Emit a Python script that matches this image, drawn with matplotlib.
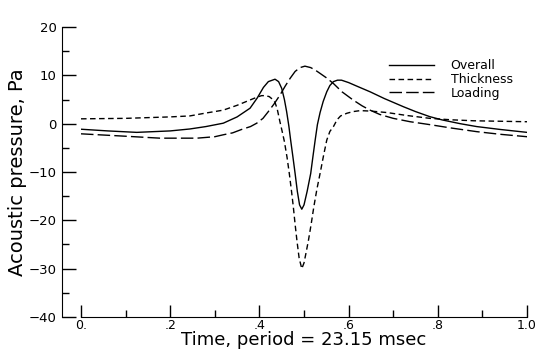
import matplotlib
matplotlib.use("Agg")
import matplotlib.pyplot as plt
from matplotlib.ticker import MultipleLocator

# values
overall_t = [0.0, 0.06, 0.125, 0.2, 0.244, 0.28, 0.319, 0.35, 0.379, 0.395, 0.409,
             0.42, 0.435, 0.443, 0.45, 0.456, 0.461, 0.466, 0.47, 0.475, 0.48,
             0.485, 0.49, 0.495, 0.5, 0.507, 0.515, 0.52, 0.525, 0.53, 0.536,
             0.543, 0.551, 0.558, 0.566, 0.575, 0.584, 0.6, 0.62, 0.648, 0.68,
             0.723, 0.75, 0.782, 0.81, 0.85, 0.887, 0.94, 1.0]
overall_p = [-1.15, -1.5, -1.8, -1.5, -1.1, -0.6, 0.1, 1.4, 3.2, 5.3, 7.5,
             8.7, 9.2, 8.7, 7.3, 5.0, 2.5, -0.5, -3.4, -6.8, -10.3,
             -14.0, -16.8, -17.7, -16.8, -14.0, -10.3, -6.8, -3.4, -0.2, 2.3,
             4.6, 6.6, 7.9, 8.7, 9.0, 9.0, 8.5, 7.7, 6.6, 5.2,
             3.5, 2.5, 1.45, 0.77, 0.0, -0.6, -1.2, -1.8]

thick_t = [0.0, 0.1, 0.2, 0.244, 0.28, 0.319, 0.35, 0.379, 0.395, 0.405, 0.413,
           0.422, 0.43, 0.435, 0.44, 0.446, 0.451, 0.456, 0.462, 0.467, 0.472,
           0.476, 0.48, 0.484, 0.489, 0.495, 0.5, 0.505, 0.51, 0.516, 0.522,
           0.529, 0.536, 0.544, 0.551, 0.558, 0.566, 0.574, 0.582, 0.596, 0.61,
           0.626, 0.65, 0.686, 0.73, 0.782, 0.83, 0.88, 0.94, 1.0]
thick_p = [1.0, 1.1, 1.4, 1.6, 2.2, 2.8, 3.8, 4.9, 5.5, 5.8, 5.8,
           5.6, 5.0, 4.4, 3.0, 0.4, -1.6, -3.7, -7.0, -10.3, -14.0,
           -17.2, -20.8, -24.1, -27.8, -30.0, -28.8, -26.5, -24.1, -20.8, -17.2,
           -13.5, -10.3, -6.5, -3.4, -1.6, -0.6, 0.8, 1.6, 2.15, 2.5,
           2.7, 2.6, 2.3, 1.7, 1.1, 0.8, 0.6, 0.5, 0.4]

load_t = [0.0, 0.1, 0.177, 0.26, 0.3, 0.319, 0.34, 0.36, 0.38, 0.394, 0.408,
          0.42, 0.433, 0.446, 0.458, 0.469, 0.48, 0.491, 0.502, 0.515, 0.525,
          0.536, 0.55, 0.566, 0.585, 0.61, 0.63, 0.648, 0.67, 0.70, 0.738,
          0.782, 0.83, 0.887, 0.94, 1.0]
load_p = [-2.1, -2.6, -3.0, -3.0, -2.7, -2.3, -1.9, -1.2, -0.6, 0.1, 1.1,
          2.5, 4.1, 5.9, 7.8, 9.4, 10.8, 11.6, 11.9, 11.6, 11.1,
          10.4, 9.5, 8.3, 6.6, 4.9, 3.7, 2.8, 1.9, 1.1, 0.4,
          -0.2, -0.9, -1.65, -2.2, -2.7]

xtick_vals = [0.0, 0.2, 0.4, 0.6, 0.8, 1.0]
xtick_text = ["0.", ".2", ".4", ".6", ".8", "1.0"]

fig = plt.figure(figsize=(5.4, 3.53), dpi=100)
ax = fig.add_axes([0.15, 0.102, 0.826, 0.8215])

ax.plot(overall_t, overall_p, color="black", lw=1.0, label="Overall")
ax.plot(thick_t, thick_p, color="black", lw=1.0, ls=(0, (4, 2.5)), label="Thickness")
ax.plot(load_t, load_p, color="black", lw=1.0, ls=(0, (9, 3)), label="Loading")

ax.set_xlim(0, 1.0)
ax.set_ylim(-40, 20)
ax.spines["top"].set_visible(False)
ax.spines["right"].set_visible(False)
ax.spines["left"].set_position(("outward", 13.7))

ax.yaxis.set_major_locator(MultipleLocator(10))
ax.yaxis.set_minor_locator(MultipleLocator(5))
ax.xaxis.set_minor_locator(MultipleLocator(0.1))
ax.set_xticks(xtick_vals)
ax.set_xticklabels(xtick_text)
ax.set_yticks([20, 10, 0, -10, -20, -30, -40])
ax.set_yticklabels(["20", "10", "0", "\u221210", "\u221220", "\u221230", "\u221240"])

ax.tick_params(axis="y", which="major", direction="in", length=10, width=1, labelsize=9.5, pad=4)
ax.tick_params(axis="y", which="minor", direction="in", length=5, width=1)
ax.tick_params(axis="x", which="major", direction="in", length=8.6, width=1, labelsize=9, pad=1.5)
ax.tick_params(axis="x", which="minor", direction="in", length=5, width=1)

ax.set_xlabel("Time, period = 23.15 msec", fontsize=13, labelpad=-0.5)
ax.set_ylabel("Acoustic pressure, Pa", fontsize=14, labelpad=1)

ax.legend(loc="upper left", bbox_to_anchor=(0.68, 0.906), frameon=False, fontsize=9,
          handlelength=3.6, handletextpad=1.3, labelspacing=0.05, borderaxespad=0)

fig.savefig("out.png", dpi=100)
